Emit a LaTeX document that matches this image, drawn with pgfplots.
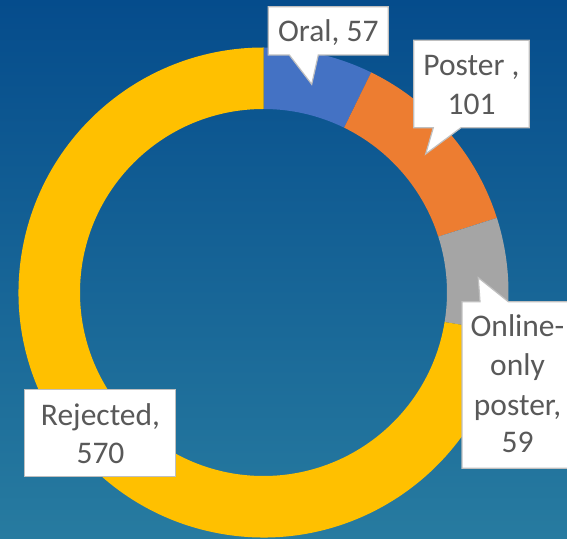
\documentclass[border=0pt]{standalone}
\usepackage{fontspec}
\setmainfont{Carlito}
\usepackage{pgfplots}
\usepackage{pgfplotstable}
\pgfplotsset{compat=1.18}

\definecolor{oral}{HTML}{4472C4}
\definecolor{poster}{HTML}{ED7D31}
\definecolor{online}{HTML}{A5A5A5}
\definecolor{rejected}{HTML}{FFC000}
\definecolor{bgtop}{HTML}{054C8C}
\definecolor{bgmid}{HTML}{11609A}
\definecolor{bgbot}{HTML}{277BA0}
\definecolor{boxgray}{HTML}{BFBFBF}
\definecolor{labelgray}{HTML}{595959}

% submissions by outcome
\pgfplotstableread{
label value color
Oral 57 oral
Poster 101 poster
Online 59 online
Rejected 570 rejected
}\sessions

% donut geometry (pixel units)
\def\cx{263.5}
\def\cy{245.5}
\def\rout{245}
\def\rin{183.5}
\def\w{61.5}

\tikzset{lbl/.style={anchor=base, inner sep=0pt, text=labelgray,
    font=\fontsize{31.5}{39}\selectfont}}

\begin{document}
\begin{tikzpicture}
\begin{axis}[
    width=567pt, height=538pt, scale only axis,
    xmin=0, xmax=567, ymin=0, ymax=538,
    hide axis,
]
\fill[top color=bgtop, middle color=bgmid, bottom color=bgbot]
    (axis cs:0,0) rectangle (axis cs:567,538);

\pgfplotstablegetrowsof{\sessions}
\pgfmathtruncatemacro{\lastrow}{\pgfplotsretval-1}
\def\total{0}
\pgfplotsforeachungrouped \i in {0,...,\lastrow}{%
  \pgfplotstablegetelem{\i}{value}\of{\sessions}%
  \pgfmathsetmacro{\total}{\total+\pgfplotsretval}%
}
\def\cum{0}
\pgfplotsforeachungrouped \i in {0,...,\lastrow}{%
  \pgfplotstablegetelem{\i}{value}\of{\sessions}%
  \pgfmathsetmacro{\angA}{90-360*(\cum/\total)}%
  \pgfmathsetmacro{\cum}{\cum+\pgfplotsretval}%
  \pgfmathsetmacro{\angB}{90-360*(\cum/\total)}%
  \pgfmathsetmacro{\angBi}{\angB+180}%
  \pgfplotstablegetelem{\i}{color}\of{\sessions}%
  \let\slicecolor\pgfplotsretval
  \edef\slice{\noexpand\fill[\slicecolor] (axis cs:\cx,\cy) ++(\angA:\rout pt)
    arc[start angle=\angA, end angle=\angB, radius=\rout pt]
    -- ++(\angBi:\w pt)
    arc[start angle=\angB, end angle=\angA, radius=\rin pt] -- cycle;}%
  \slice
}

% callouts
\filldraw[fill=white, draw=boxgray, line width=1.2pt]
  (axis cs:268.3,531.3) -- (axis cs:388.3,531.3) -- (axis cs:388.3,483)
  -- (axis cs:318.3,483) -- (axis cs:311.7,453.7) -- (axis cs:289.3,483)
  -- (axis cs:268.3,483) -- cycle;
\filldraw[fill=white, draw=boxgray, line width=1.2pt]
  (axis cs:413.7,497.7) -- (axis cs:529.3,497.7) -- (axis cs:529.3,410.3)
  -- (axis cs:461,410.3) -- (axis cs:425.7,384) -- (axis cs:433.3,410.3)
  -- (axis cs:413.7,410.3) -- cycle;
\filldraw[fill=white, draw=boxgray, line width=1.2pt]
  (axis cs:462,236.3) -- (axis cs:480,236.3) -- (axis cs:478.3,260.3)
  -- (axis cs:508.3,236.3) -- (axis cs:574,236.3) -- (axis cs:574,69.7)
  -- (axis cs:462,69.7) -- cycle;
\filldraw[fill=white, draw=boxgray, line width=1.2pt]
  (axis cs:24.3,61.3) rectangle (axis cs:175.7,148.7);

\node[lbl] at (axis cs:328.3,496.3) {Oral, 57};
\node[lbl] at (axis cs:471.5,462) {Poster ,};
\node[lbl] at (axis cs:471.5,423.7) {101};
\node[lbl] at (axis cs:517.5,201.3) {Online-};
\node[lbl] at (axis cs:517.5,162) {only};
\node[lbl] at (axis cs:517.5,122.5) {poster,};
\node[lbl] at (axis cs:517.5,85.5) {59};
\node[lbl] at (axis cs:100.5,113) {Rejected,};
\node[lbl] at (axis cs:100.5,74.7) {570};
\end{axis}
\pgfresetboundingbox
\useasboundingbox (current axis.south west) rectangle (current axis.north east);
\end{tikzpicture}
\end{document}
